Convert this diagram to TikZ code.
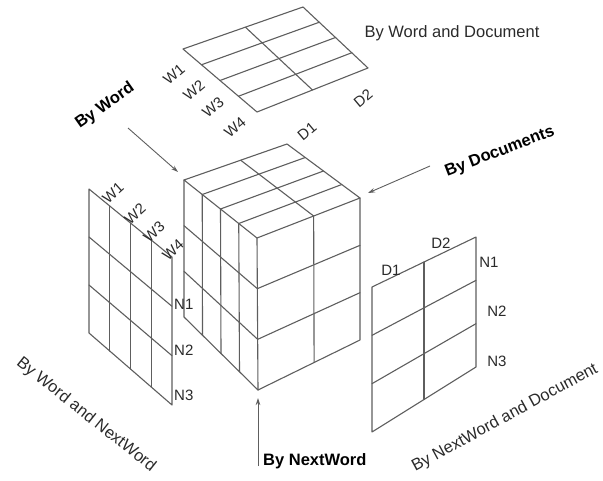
\documentclass[tikz,border=0pt]{standalone}
\usepackage{fontspec}
\setmainfont{Liberation Sans}
\usetikzlibrary{calc,arrows.meta}
\definecolor{ln}{HTML}{5E5E5E}
\definecolor{tx}{HTML}{2A2A2A}
\begin{document}
\begin{tikzpicture}[x=1pt,y=-1pt,
  gl/.style={draw=ln,line width=1.1pt,line cap=round,line join=round},
  lab/.style={text=tx,font=\fontsize{15}{16}\selectfont,inner sep=0pt},
  capt/.style={text=tx,font=\fontsize{16.5}{18}\selectfont,inner sep=0pt},
  bcapt/.style={text=black,font=\bfseries\fontsize{16.5}{18}\selectfont,inner sep=0pt},
  arr/.style={draw=ln,line width=0.9pt,-{Stealth[length=7pt,width=4.5pt]}}]
\useasboundingbox (0,0) rectangle (603,480);

% ---------- cube ----------
\coordinate (A) at (257,238);
\coordinate (B) at (184,180);
\coordinate (C) at (360,198);
\coordinate (D) at (287,144);
\coordinate (E) at (258,390);
\coordinate (G) at (184,317);
\coordinate (K) at (360,340);
\draw[gl] (A)--(B)--(D)--(C)--cycle;
\foreach \t in {0.25,0.5,0.75}{
  \draw[gl] ($(A)!\t!(B)$) -- ($(C)!\t!(D)$);
  \draw[gl] ($(A)!\t!(B)$) -- ($(E)!\t!(G)$);
}
\draw[gl] ($(A)!0.55!(C)$) -- ($(B)!0.55!(D)$);
\draw[gl] (B)--(G)--(E)--(K)--(C);
\draw[gl] (A)--(E);
\draw[gl] ($(A)!0.55!(C)$) -- ($(E)!0.55!(K)$);
\foreach \t in {0.3333,0.6667}{
  \draw[gl] ($(B)!\t!(G)$) -- ($(A)!\t!(E)$) -- ($(C)!\t!(K)$);
}

% ---------- top panel: By Word and Document ----------
\coordinate (P1) at (257,112);
\coordinate (P2) at (183,49);
\coordinate (P3) at (303,7);
\coordinate (P4) at (368,68);
\draw[gl] (P1)--(P2)--(P3)--(P4)--cycle;
\foreach \t in {0.25,0.5,0.75}{
  \draw[gl] ($(P2)!\t!(P1)$) -- ($(P3)!\t!(P4)$);
}
\draw[gl] ($(P1)!0.5!(P4)$) -- ($(P2)!0.52!(P3)$);
\node[lab,rotate=40] (tw1) at (174,74) {W1};
\node[lab,rotate=40] (tw2) at (194,90) {W2};
\node[lab,rotate=40] (tw3) at (213,107) {W3};
\node[lab,rotate=40] (tw4) at (235,127) {W4};
\node[lab,rotate=40] (td1) at (307,131) {D1};
\node[lab,rotate=40] (td2) at (363,98) {D2};
\node[capt] (cwd) at (452,33) {By Word and Document};

% ---------- left panel: By Word and NextWord ----------
\coordinate (Q1) at (89,189);
\coordinate (Q2) at (172,257);
\coordinate (Q3) at (172,405);
\coordinate (Q4) at (89,333);
\draw[gl] (Q1)--(Q2)--(Q3)--(Q4)--cycle;
\foreach \t in {0.25,0.5,0.75}{
  \draw[gl] ($(Q1)!\t!(Q2)$) -- ($(Q4)!\t!(Q3)$);
}
\foreach \t in {0.3333,0.6667}{
  \draw[gl] ($(Q1)!\t!(Q4)$) -- ($(Q2)!\t!(Q3)$);
}
\node[lab,rotate=42] (lw1) at (113,193) {W1};
\node[lab,rotate=42] (lw2) at (135,214) {W2};
\node[lab,rotate=42] (lw3) at (154,232) {W3};
\node[lab,rotate=42] (lw4) at (173,250) {W4};
\node[lab,anchor=west] (ln1) at (174,304) {N1};
\node[lab,anchor=west] (ln2) at (174,350) {N2};
\node[lab,anchor=west] (ln3) at (174,395) {N3};
\node[capt,rotate=-38.5] (cwn) at (86,415) {By Word and NextWord};

% ---------- right panel: By NextWord and Document ----------
\coordinate (R1) at (372,287);
\coordinate (R2) at (476,237);
\coordinate (R3) at (476,367);
\coordinate (R4) at (372,432);
\draw[gl] (R1)--(R2)--(R3)--(R4)--cycle;
\draw[gl] ($(R1)!0.5!(R2)$) -- ($(R4)!0.5!(R3)$);
\foreach \t in {0.3333,0.6667}{
  \draw[gl] ($(R1)!\t!(R4)$) -- ($(R2)!\t!(R3)$);
}
\node[lab] (rd1) at (391,270) {D1};
\node[lab] (rd2) at (441,243) {D2};
\node[lab] (rn1) at (489,262) {N1};
\node[lab] (rn2) at (497,311) {N2};
\node[lab] (rn3) at (497,361) {N3};
\node[capt,rotate=28.5] (cnd) at (505,418) {By NextWord and Document};

% ---------- arrows ----------
\node[bcapt,rotate=35] (bw) at (105,106) {By Word};
\coordinate (bws) at (128,128);
\coordinate (bwe) at (178,172);
\draw[arr] (bws) -- (bwe);

\node[bcapt,rotate=21] (bd) at (500,152) {By Documents};
\coordinate (bds) at (430,166);
\coordinate (bde) at (368,193);
\draw[arr] (bds) -- (bde);

\node[bcapt,anchor=west] (bn) at (263,461) {By NextWord};
\coordinate (bns) at (258,466);
\coordinate (bne) at (258,398);
\draw[arr] (bns) -- (bne);
\end{tikzpicture}
\end{document}
